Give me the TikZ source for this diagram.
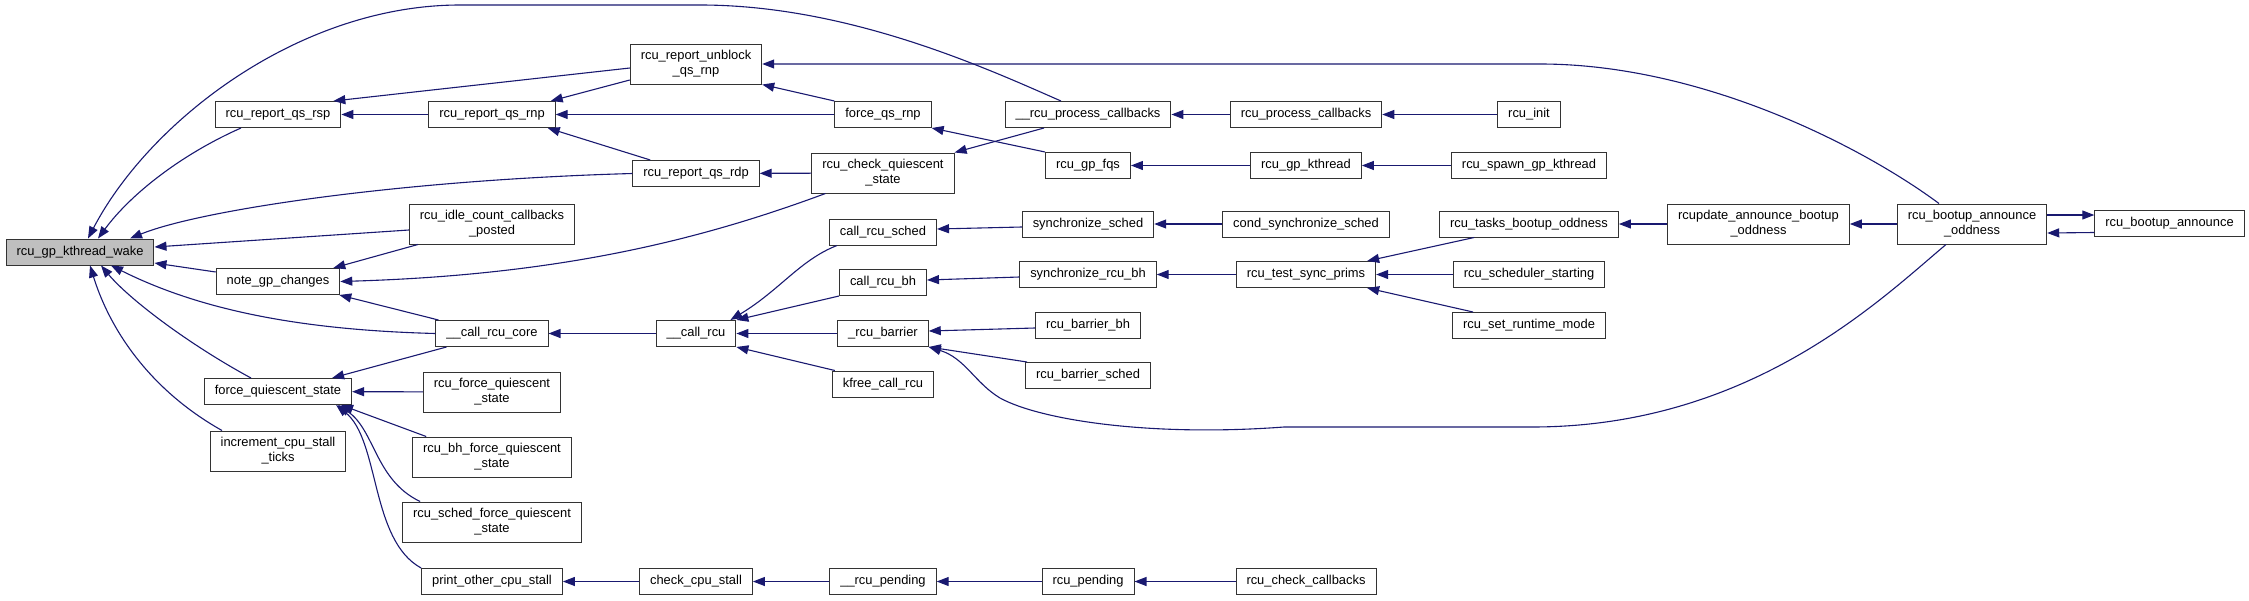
\documentclass[tikz,border=0pt]{standalone}
\usepackage{fontspec}
\setmainfont{Liberation Sans}
\usetikzlibrary{arrows.meta}
\definecolor{edgeblue}{HTML}{191970}

\begin{document}
\begin{tikzpicture}[
  x=1pt,y=-1pt,
  box/.style={rectangle,draw=black!80,line width=1pt,fill=white,inner xsep=10.5pt,inner ysep=2pt,minimum height=26pt,align=center,font=\fontsize{12.9}{15}\selectfont},
  twobox/.style={box,minimum height=40pt},
  rootbox/.style={box,fill=black!25},
  call/.style={->,>={Triangle[length=12pt,width=9pt]},line width=1.1pt,edgeblue},
]
\useasboundingbox (0,0) rectangle (2249,600);

% === Rank 0: root ===
\node[rootbox] (wake) at (80,252) {rcu\_gp\_kthread\_wake};

% === Rank 1 ===
\node[box] (rsp) at (278,114.5) {rcu\_report\_qs\_rsp};
\node[box] (note) at (278,281.5) {note\_gp\_changes};
\node[box] (fqs) at (278,391.5) {force\_quiescent\_state};
\node[twobox] (incr) at (278,451) {increment\_cpu\_stall\\\_ticks};

% === Rank 2 ===
\node[box] (rnp) at (492,114.5) {rcu\_report\_qs\_rnp};
\node[twobox] (idle) at (492,224) {rcu\_idle\_count\_callbacks\\\_posted};
\node[box] (core) at (492,333.5) {\_\_call\_rcu\_core};
\node[twobox] (rfqs) at (492,392) {rcu\_force\_quiescent\\\_state};
\node[twobox] (bhfqs) at (492,457) {rcu\_bh\_force\_quiescent\\\_state};
\node[twobox] (schedfqs) at (492,522) {rcu\_sched\_force\_quiescent\\\_state};
\node[box] (print) at (492,581.5) {print\_other\_cpu\_stall};

% === Rank 3 ===
\node[twobox] (unblock) at (696,64) {rcu\_report\_unblock\\\_qs\_rnp};
\node[box] (rdp) at (696,173.5) {rcu\_report\_qs\_rdp};
\node[box] (callrcu) at (696,333.5) {\_\_call\_rcu};
\node[box] (cpustall) at (696,581.5) {check\_cpu\_stall};

% === Rank 4 ===
\node[box] (fqsrnp) at (883,114.5) {force\_qs\_rnp};
\node[twobox] (checkq) at (883,173) {rcu\_check\_quiescent\\\_state};
\node[box] (callsched) at (883,232) {call\_rcu\_sched};
\node[box] (callbh) at (883,282.5) {call\_rcu\_bh};
\node[box] (barrier) at (883,333.5) {\_rcu\_barrier};
\node[box] (kfree) at (883,384) {kfree\_call\_rcu};
\node[box] (rpending) at (883,581.5) {\_\_rcu\_pending};

% === Rank 5 ===
\node[box] (procb) at (1088,114.5) {\_\_rcu\_process\_callbacks};
\node[box] (gpfqs) at (1088,165.5) {rcu\_gp\_fqs};
\node[box] (syncsched) at (1088,224) {synchronize\_sched};
\node[box] (syncbh) at (1088,274.5) {synchronize\_rcu\_bh};
\node[box] (barbh) at (1088,325.5) {rcu\_barrier\_bh};
\node[box] (barsched) at (1088,375.5) {rcu\_barrier\_sched};
\node[box] (pending) at (1088,581.5) {rcu\_pending};

% === Rank 6 ===
\node[box] (rprocb) at (1306,114.5) {rcu\_process\_callbacks};
\node[box] (gpkthread) at (1306,165.5) {rcu\_gp\_kthread};
\node[box] (condsync) at (1306,224) {cond\_synchronize\_sched};
\node[box] (testsync) at (1306,274.5) {rcu\_test\_sync\_prims};
\node[box] (checkcb) at (1306,581.5) {rcu\_check\_callbacks};

% === Rank 7 ===
\node[box] (init) at (1529,114.5) {rcu\_init};
\node[box] (spawn) at (1529,165.5) {rcu\_spawn\_gp\_kthread};
\node[box] (tasks) at (1529,224) {rcu\_tasks\_bootup\_oddness};
\node[box] (schedstart) at (1529,274.5) {rcu\_scheduler\_starting};
\node[box] (runtime) at (1529,325.5) {rcu\_set\_runtime\_mode};

% === Ranks 8-10 ===
\node[twobox] (rcupdate) at (1758.5,224) {rcupdate\_announce\_bootup\\\_oddness};
\node[twobox] (oddness) at (1972,224) {rcu\_bootup\_announce\\\_oddness};
\node[box] (announce) at (2169.5,223.5) {rcu\_bootup\_announce};

% === Calls into the root ===
\draw[call] ([xshift=-27pt]procb.north) .. controls (990,70) and (850,5) .. (700,5) -- (460,5) .. controls (300,5) and (150,120) .. ([xshift=8pt]wake.north);
\draw[call] ([xshift=-37pt]rsp.south) .. controls (180,155) and (130,195) .. ([xshift=18pt]wake.north);
\draw[call] (rdp.west) .. controls (400,180) and (200,210) .. ([xshift=50pt]wake.north);
\draw[call] ([yshift=-6pt]idle.west) -- ([yshift=5pt]wake.east);
\draw[call] ([yshift=9.5pt]note.west) -- ([yshift=-11pt]wake.east);
\draw[call] (core.west) .. controls (300,330) and (200,310) .. ([xshift=31pt]wake.south);
\draw[call] ([xshift=-27pt]fqs.north) .. controls (190,345) and (130,300) .. ([xshift=21pt]wake.south);
\draw[call] ([xshift=-56pt]incr.north) .. controls (150,390) and (110,330) .. ([xshift=10pt]wake.south);

% === Rank 1 callers ===
\draw[call] (rnp) -- (rsp);
\draw[call] ([yshift=-4pt]unblock.west) -- ([xshift=-8pt]rsp.north east);
\draw[call] ([xshift=14pt]checkq.south west) .. controls (700,240) and (560,275) .. (note.east);
\draw[call] ([xshift=9pt]idle.south west) -- ([xshift=-7pt]note.north east);
\draw[call] ([xshift=3pt]core.north west) -- ([xshift=-1pt]note.south east);
\draw[call] ([xshift=11pt]core.south west) -- ([xshift=-20pt]fqs.north east);
\draw[call] (rfqs) -- (fqs);
\draw[call] ([xshift=14pt]bhfqs.north west) -- ([xshift=-11pt]fqs.south east);
\draw[call] ([xshift=18pt]schedfqs.north west) .. controls (375,480) and (375,430) .. ([xshift=-14pt]fqs.south east);
\draw[call] (print.north west) .. controls (370,540) and (380,440) .. ([xshift=-16pt]fqs.south east);

% === Rank 2 callers ===
\draw[call] ([yshift=-16pt]unblock.west) -- ([xshift=-5pt]rnp.north east);
\draw[call] (fqsrnp) -- (rnp);
\draw[call] ([xshift=18pt]rdp.north west) -- ([xshift=-8pt]rnp.south east);
\draw[call] (callrcu) -- (core);
\draw[call] (cpustall) -- (print);

% === Rank 3 callers ===
\draw[call] (fqsrnp.north west) -- (unblock.south east);
\draw[call] (checkq) -- (rdp);
\draw[call] ([xshift=8pt]callsched.south west) .. controls (800,260) and (780,290) .. ([xshift=-6pt]callrcu.north east);
\draw[call] (callbh.south west) -- (callrcu.north east);
\draw[call] (barrier) -- (callrcu);
\draw[call] ([xshift=3pt]kfree.north west) -- (callrcu.south east);
\draw[call] (rpending) -- (cpustall);

% === Rank 4 callers ===
\draw[call] ([xshift=-44pt]procb.south) -- (checkq.north east);
\draw[call] (gpfqs.north west) -- (fqsrnp.south east);
\draw[call] ([yshift=-3pt]syncsched.west) -- ([yshift=3pt]callsched.east);
\draw[call] ([yshift=-2.5pt]syncbh.west) -- ([yshift=2.5pt]callbh.east);
\draw[call] ([yshift=-2.5pt]barbh.west) -- ([yshift=2.5pt]barrier.east);
\draw[call] ([xshift=2pt]barsched.north west) -- (barrier.south east);
\draw[call] (pending) -- (rpending);

% === Rank 5 and beyond ===
\draw[call] (rprocb) -- (procb);
\draw[call] (init) -- (rprocb);
\draw[call] (gpkthread) -- (gpfqs);
\draw[call] (spawn) -- (gpkthread);
\draw[call] (condsync) -- (syncsched);
\draw[call] (testsync) -- (syncbh);
\draw[call] (checkcb) -- (pending);
\draw[call] ([xshift=35pt]tasks.south west) -- ([xshift=-9pt]testsync.north east);
\draw[call] (schedstart) -- (testsync);
\draw[call] ([xshift=21pt]runtime.north west) -- ([xshift=-9pt]testsync.south east);
\draw[call] (rcupdate) -- (tasks);
\draw[call] (oddness) -- (rcupdate);
\draw[call] ([yshift=9pt]oddness.east) -- ([yshift=8.5pt]announce.west);
\draw[call] ([yshift=-9pt]announce.west) -- ([yshift=-9pt]oddness.east);

% === Long calls from rcu_bootup_announce_oddness ===
\draw[call] ([xshift=-33pt]oddness.north) .. controls (1860,145) and (1700,64) .. (1540,64) -- (unblock.east);
\draw[call] ([xshift=-26pt]oddness.south) .. controls (1880,300) and (1750,427) .. (1532,427) -- (1284,427) .. controls (1150,437) and (1040,420) .. (1000,398) .. controls (975,383) and (965,358) .. (barrier.south east);

\end{tikzpicture}
\end{document}
